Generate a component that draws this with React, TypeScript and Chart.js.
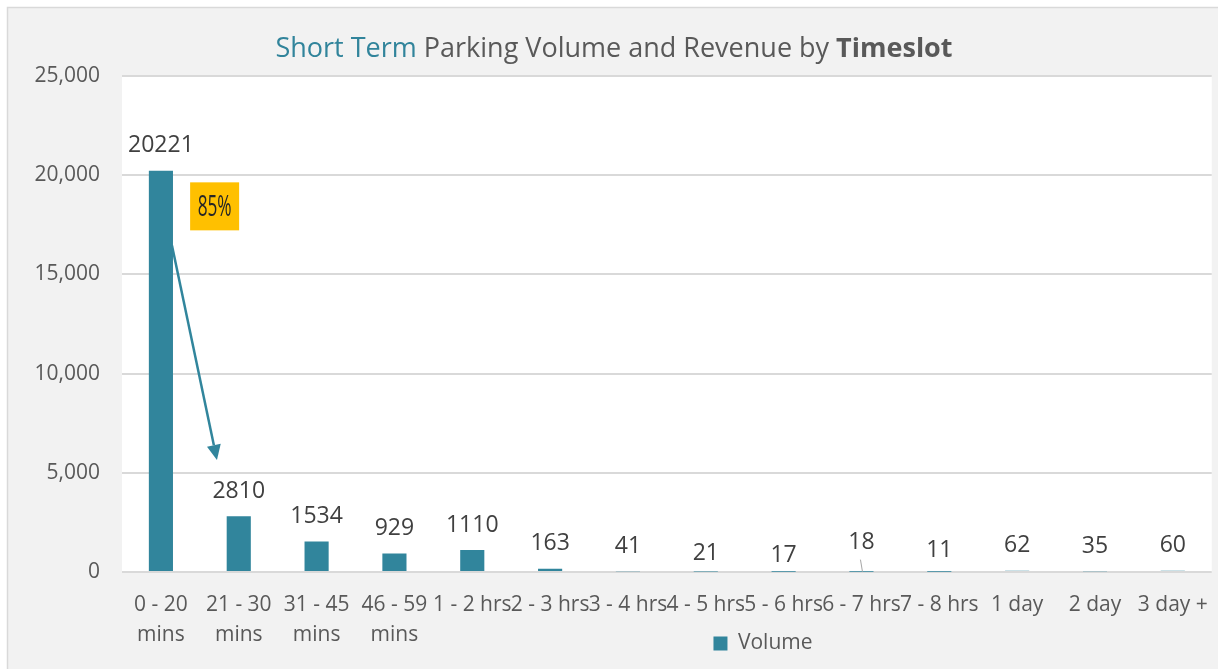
import React, { useEffect, useRef } from "react";
import { Chart, registerables } from "chart.js";
Chart.register(...registerables);

const categories: (string | string[])[] = [
  ["0 - 20", "mins"],
  ["21 - 30", "mins"],
  ["31 - 45", "mins"],
  ["46 - 59", "mins"],
  "1 - 2 hrs",
  "2 - 3 hrs",
  "3 - 4 hrs",
  "4 - 5 hrs",
  "5 - 6 hrs",
  "6 - 7 hrs",
  "7 - 8 hrs",
  "1 day",
  "2 day",
  "3 day +",
];
const volume = [20221, 2810, 1534, 929, 1110, 163, 41, 21, 17, 18, 11, 62, 35, 60];
const seriesName = "Volume";
const yMax = 25000;
const yStep = 5000;
const titleParts = [
  { text: "Short Term ", color: "#31849b", bold: false },
  { text: "Parking Volume and Revenue by ", color: "#595959", bold: false },
  { text: "Timeslot", color: "#595959", bold: true },
];
const calloutText = "85%";
// arrow annotation in data coordinates (category index, value)
const arrowFrom = { x: 0.142, y: 16460 };
const arrowTo = { x: 0.72, y: 5650 };
const calloutAt = { x: 0.69, y: 18430 };

const FONT = "'Open Sans', 'Noto Sans', sans-serif";
const BAR = "#31859c";

// per-label vertical nudges (px) mimicking manual placements
const labelNudge: Record<number, number> = { 7: 7, 8: 9, 9: -4, 10: 4 };
const leaderLabels = new Set([9]);

const bgPlugin = {
  id: "bg",
  beforeDraw(chart: any) {
    const { ctx, width, height, chartArea } = chart;
    // place legend (Excel-style position, overlapping the x-axis band)
    const lg = chart.legend;
    if (lg) {
      const h = lg.bottom - lg.top;
      const w = lg.right - lg.left;
      lg.top = 627;
      lg.bottom = 627 + h;
      lg.left = 157;
      lg.right = 157 + w;
    }
    ctx.save();
    ctx.fillStyle = "#ffffff";
    ctx.fillRect(0, 0, width, height);
    ctx.fillStyle = "#f2f2f2";
    ctx.fillRect(7, 7, width, height);
    ctx.strokeStyle = "#d9d9d9";
    ctx.lineWidth = 1.5;
    ctx.beginPath();
    ctx.moveTo(7.5, height + 5);
    ctx.lineTo(7.5, 7.5);
    ctx.lineTo(width + 5, 7.5);
    ctx.stroke();
    ctx.fillStyle = "#ffffff";
    ctx.fillRect(chartArea.left, chartArea.top, chartArea.right - chartArea.left, chartArea.bottom - chartArea.top);
    ctx.restore();
  },
};

const titlePlugin = {
  id: "richTitle",
  afterDraw(chart: any) {
    const { ctx } = chart;
    ctx.save();
    const size = 27;
    const widths = titleParts.map((p) => {
      ctx.font = `${p.bold ? "bold " : ""}${size}px ${FONT}`;
      return ctx.measureText(p.text).width;
    });
    const total = widths.reduce((a, b) => a + b, 0);
    let x = 614 - total / 2;
    ctx.textBaseline = "middle";
    ctx.textAlign = "left";
    titleParts.forEach((p, i) => {
      ctx.font = `${p.bold ? "bold " : ""}${size}px ${FONT}`;
      ctx.fillStyle = p.color;
      ctx.fillText(p.text, x, 49);
      x += widths[i];
    });
    ctx.restore();
  },
};

const labelsPlugin = {
  id: "valueLabels",
  afterDatasetsDraw(chart: any) {
    const { ctx } = chart;
    const meta = chart.getDatasetMeta(0);
    ctx.save();
    ctx.font = `23px ${FONT}`;
    ctx.fillStyle = "#404040";
    ctx.textAlign = "center";
    ctx.textBaseline = "middle";
    meta.data.forEach((bar: any, i: number) => {
      const y = bar.y - 25 + (labelNudge[i] || 0);
      ctx.fillText(String(volume[i]), bar.x, y);
      if (leaderLabels.has(i)) {
        ctx.strokeStyle = "#a6a6a6";
        ctx.lineWidth = 1;
        ctx.beginPath();
        ctx.moveTo(bar.x - 1, y + 17);
        ctx.lineTo(bar.x + 1, bar.y);
        ctx.stroke();
      }
    });
    ctx.restore();
  },
};

const annotationPlugin = {
  id: "arrowCallout",
  afterDatasetsDraw(chart: any) {
    const { ctx, scales } = chart;
    const xs = scales.x;
    const ys = scales.y;
    const x1 = xs.getPixelForValue(arrowFrom.x);
    const y1 = ys.getPixelForValue(arrowFrom.y);
    const x2 = xs.getPixelForValue(arrowTo.x);
    const y2 = ys.getPixelForValue(arrowTo.y);
    const ang = Math.atan2(y2 - y1, x2 - x1);
    const headLen = 15;
    const headW = 7;
    ctx.save();
    ctx.strokeStyle = BAR;
    ctx.fillStyle = BAR;
    ctx.lineWidth = 2.5;
    ctx.beginPath();
    ctx.moveTo(x1, y1);
    ctx.lineTo(x2 - Math.cos(ang) * headLen, y2 - Math.sin(ang) * headLen);
    ctx.stroke();
    ctx.beginPath();
    ctx.moveTo(x2, y2);
    const bx = x2 - Math.cos(ang) * headLen;
    const by = y2 - Math.sin(ang) * headLen;
    ctx.lineTo(bx + Math.sin(ang) * headW, by - Math.cos(ang) * headW);
    ctx.lineTo(bx - Math.sin(ang) * headW, by + Math.cos(ang) * headW);
    ctx.closePath();
    ctx.fill();

    const cx = xs.getPixelForValue(calloutAt.x);
    const cy = ys.getPixelForValue(calloutAt.y);
    const bw = 49;
    const bh = 48;
    ctx.fillStyle = "#ffc000";
    ctx.fillRect(cx - bw / 2, cy - bh / 2, bw, bh);
    ctx.font = `30px ${FONT}`;
    const tw = ctx.measureText(calloutText).width;
    const sx = 34 / tw;
    ctx.translate(cx, cy);
    ctx.scale(sx, 1);
    ctx.fillStyle = "#262626";
    ctx.textAlign = "center";
    ctx.textBaseline = "middle";
    ctx.fillText(calloutText, 0, 1);
    ctx.restore();
  },
};

export default function App() {
  const ref = useRef<HTMLCanvasElement>(null);
  useEffect(() => {
    document.body.style.margin = "0";
    const chart = new Chart(ref.current!, {
      type: "bar",
      data: {
        labels: categories,
        datasets: [
          {
            label: seriesName,
            data: volume,
            backgroundColor: BAR,
            borderWidth: 0,
            barPercentage: 0.62,
            categoryPercentage: 0.5,
          },
        ],
      },
      options: {
        responsive: false,
        animation: false,
        devicePixelRatio: 1,
        layout: { padding: { top: 76, left: 0, right: 6, bottom: -18 } },
        plugins: {
          title: { display: false },
          tooltip: { enabled: false },
          legend: {
            position: "bottom",
            labels: {
              font: { family: FONT, size: 21 },
              color: "#595959",
              boxWidth: 14,
              boxHeight: 14,
              padding: 6,
            },
          },
        },
        scales: {
          x: {
            grid: { display: false },
            border: { display: false },
            ticks: {
              autoSkip: false,
              maxRotation: 0,
              minRotation: 0,
              font: { family: FONT, size: 21, lineHeight: 1.43 },
              color: "#595959",
              padding: 10,
            },
            afterFit: (s: any) => {
              s.height = 78;
            },
          },
          y: {
            min: 0,
            max: yMax,
            ticks: {
              stepSize: yStep,
              font: { family: FONT, size: 21 },
              color: "#595959",
              padding: 22,
              callback: (v: any) => Number(v).toLocaleString("en-US"),
            },
            grid: { color: "#d9d9d9", lineWidth: 2, drawTicks: false },
            border: { display: false },
            afterFit: (s: any) => {
              s.width = 122;
            },
          },
        },
      },
      plugins: [bgPlugin, titlePlugin, labelsPlugin, annotationPlugin],
    });
    return () => chart.destroy();
  }, []);
  return (
    <div style={{ position: "absolute", left: 0, top: 0, width: 1218, height: 669 }}>
      <canvas ref={ref} width={1218} height={669} />
    </div>
  );
}
